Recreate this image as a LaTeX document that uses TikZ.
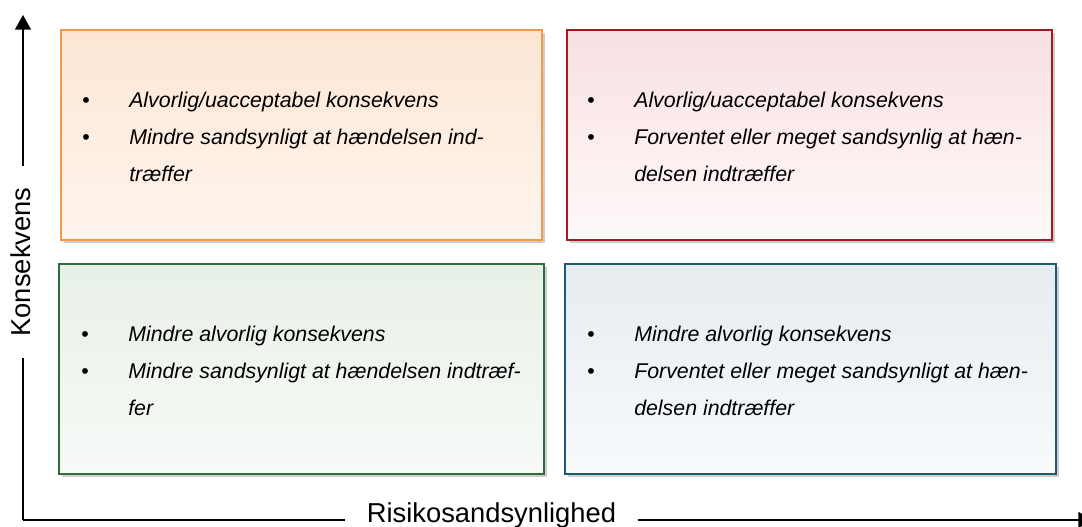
\documentclass[tikz,border=0pt]{standalone}
\usepackage{fontspec}
\setmainfont{Liberation Sans}
\usepackage{xcolor}
\usetikzlibrary{arrows.meta,positioning,calc,shadows}

\definecolor{orangekant}{HTML}{F79646}
\definecolor{orangetop}{HTML}{FDE6D4}
\definecolor{orangebund}{HTML}{FEF5EE}
\definecolor{roedkant}{HTML}{A8191F}
\definecolor{roedtop}{HTML}{F9E0E2}
\definecolor{roedbund}{HTML}{FEF9F9}
\definecolor{groenkant}{HTML}{2F6B3B}
\definecolor{groentop}{HTML}{E7F0E7}
\definecolor{groenbund}{HTML}{F7FAF7}
\definecolor{blaakant}{HTML}{1B5D6E}
\definecolor{blaatop}{HTML}{E6ECF0}
\definecolor{blaabund}{HTML}{F8FAFC}

\newcommand{\punkter}[1]{\begin{tabular}{@{}p{35.25pt}@{}l@{}}#1\end{tabular}}
\newcommand{\pkt}{{\upshape\textbullet}&}

\tikzset{
  felt/.style n args={3}{draw=#1, top color=#2, bottom color=#3, line width=1.5pt,
    minimum height=157.5pt, inner sep=0pt,
    drop shadow={shadow xshift=2pt, shadow yshift=-2.5pt, opacity=0.35, fill=black!55}},
  liste/.style={anchor=west, inner sep=0pt, font=\fontsize{16}{27.75}\selectfont\itshape},
  akse/.style={line width=1.1pt},
  aksetekst/.style={font=\fontsize{20.5}{24}\selectfont, inner xsep=16pt, inner ysep=0pt}
}

\begin{document}
\begin{tikzpicture}[x=0.75pt, y=-0.75pt]
\clip (0,0) rectangle (1082,527);

% Felter
\node[felt={orangekant}{orangetop}{orangebund}, minimum width=360.75pt] (ol) at (301.5,135) {};
\node[felt={roedkant}{roedtop}{roedbund}, minimum width=363.75pt] (or) at (809.5,135) {};
\node[felt={groenkant}{groentop}{groenbund}, minimum width=363.75pt] (nl) at (301.5,369) {};
\node[felt={blaakant}{blaatop}{blaabund}, minimum width=368.25pt] (nr) at (810.5,369) {};

% Tekst i felterne
\node[liste] (olt) at ($(ol.west)+(22,2.5)$) {\punkter{%
  \pkt Alvorlig/uacceptabel konsekvens\\
  \pkt Mindre sandsynligt at hændelsen ind-\\
  & træffer}};
\node[liste] (ort) at ($(or.west)+(21,2.5)$) {\punkter{%
  \pkt Alvorlig/uacceptabel konsekvens\\
  \pkt Forventet eller meget sandsynlig at hæn-\\
  & delsen indtræffer}};
\node[liste] (nlt) at ($(nl.west)+(23,2.5)$) {\punkter{%
  \pkt Mindre alvorlig konsekvens\\
  \pkt Mindre sandsynligt at hændelsen indtræf-\\
  & fer}};
\node[liste] (nrt) at ($(nr.west)+(23,2.5)$) {\punkter{%
  \pkt Mindre alvorlig konsekvens\\
  \pkt Forventet eller meget sandsynligt at hæn-\\
  & delsen indtræffer}};

% Akser
\coordinate (o) at (23,520);
\coordinate (ytop) at (23,15);
\coordinate (xtop) at (1093,520);
\node[aksetekst, rotate=90] (ylab) at (21,262) {Konsekvens};
\node[aksetekst] (xlab) at (491.5,515.5) {Risikosandsynlighed};

\draw[akse] (o) -- (o |- ylab.west);
\draw[akse, -{Triangle[length=11pt, width=12pt]}] (o |- ylab.east) -- (ytop);
\draw[akse] (o) -- (o -| xlab.west);
\draw[akse, -{Triangle[length=11pt, width=12pt]}] (xlab.east |- o) -- (xtop);

\end{tikzpicture}
\end{document}
